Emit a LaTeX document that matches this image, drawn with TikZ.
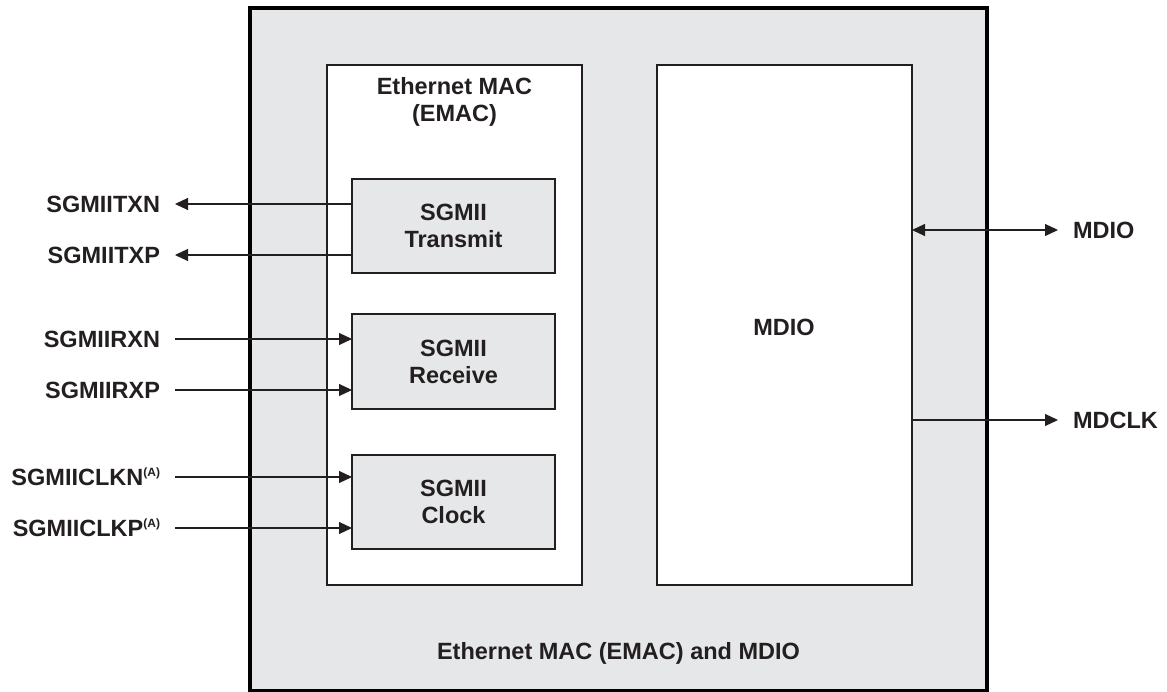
\documentclass[tikz,border=0pt]{standalone}
\usepackage{fontspec}
\setmainfont{Liberation Sans}
\usetikzlibrary{arrows.meta}
\definecolor{bg}{HTML}{E6E7E8}
\definecolor{ink}{HTML}{231F20}
\tikzset{
  lbl/.style={font=\fontsize{23.5}{27}\selectfont\bfseries, text=ink, inner sep=0pt, outer sep=0pt},
  pin/.style={lbl, text height=16.8pt, text depth=0pt},
  box/.style={draw=ink, anchor=north west, inner sep=0pt, outer sep=0pt},
  conn/.style={draw=ink, line width=1.1pt},
  tipend/.style={conn, -{Triangle[length=13pt,width=12pt]}},
  tipboth/.style={conn, {Triangle[length=13pt,width=12pt]}-{Triangle[length=13pt,width=12pt]}},
}
\newcommand{\supA}{{\fontsize{12}{12}\selectfont\bfseries\raisebox{9pt}{(A)}}}
\begin{document}
\begin{tikzpicture}[x=1pt,y=-1pt]
\useasboundingbox (0,0) rectangle (1167,692);
% outer block
\node[box, draw=black, line width=3.5pt, fill=bg, minimum width=737pt, minimum height=683pt] (outer) at (250,8) {};
% EMAC and MDIO blocks
\node[box, line width=1.2pt, fill=white, minimum width=255pt, minimum height=520pt] (emac) at (327,65) {};
\node[box, line width=1.2pt, fill=white, minimum width=255pt, minimum height=520pt] (mdio) at (657,65) {};
% SGMII sub-blocks
\node[box, line width=1.4pt, fill=bg, minimum width=203pt, minimum height=94pt] (tx) at (352,179) {};
\node[box, line width=1.4pt, fill=bg, minimum width=203pt, minimum height=95pt] (rx) at (352,314) {};
\node[box, line width=1.4pt, fill=bg, minimum width=203pt, minimum height=94pt] (clk) at (352,455) {};
% titles
\node[lbl, align=center] (emact) at (454.5,102) {Ethernet MAC\\(EMAC)};
\node[lbl, align=center] (txt) at (tx.center) {SGMII\\Transmit};
\node[lbl, align=center] (rxt) at (rx.center) {SGMII\\Receive};
\node[lbl, align=center] (clkt) at (clk.center) {SGMII\\Clock};
\node[lbl] (mdiot) at (784,327) {MDIO};
\node[lbl] (outert) at (618.5,653) {Ethernet MAC (EMAC) and MDIO};
% pin labels
\node[pin, anchor=east] (txn) at (160,204) {SGMIITXN};
\node[pin, anchor=east] (txp) at (160,255) {SGMIITXP};
\node[pin, anchor=east] (rxn) at (160,339) {SGMIIRXN};
\node[pin, anchor=east] (rxp) at (160,390) {SGMIIRXP};
\node[pin, anchor=east] (clkn) at (160,477) {SGMIICLKN\supA};
\node[pin, anchor=east] (clkp) at (160,528) {SGMIICLKP\supA};
\node[pin, anchor=west] (mdiol) at (1073,230) {MDIO};
\node[pin, anchor=west] (mdclkl) at (1073,420) {MDCLK};
% connectors
\draw[tipend, shorten >=15pt] (tx.west |- txn.east) -- (txn.east);
\draw[tipend, shorten >=15pt] (tx.west |- txp.east) -- (txp.east);
\draw[tipend, shorten <=15pt] (rxn.east) -- (rx.west |- rxn.east);
\draw[tipend, shorten <=15pt] (rxp.east) -- (rx.west |- rxp.east);
\draw[tipend, shorten <=15pt] (clkn.east) -- (clk.west |- clkn.east);
\draw[tipend, shorten <=15pt] (clkp.east) -- (clk.west |- clkp.east);
\draw[tipboth, shorten >=15pt] (mdio.east |- mdiol.west) -- (mdiol.west);
\draw[tipend, shorten >=15pt] (mdio.east |- mdclkl.west) -- (mdclkl.west);
\end{tikzpicture}
\end{document}
